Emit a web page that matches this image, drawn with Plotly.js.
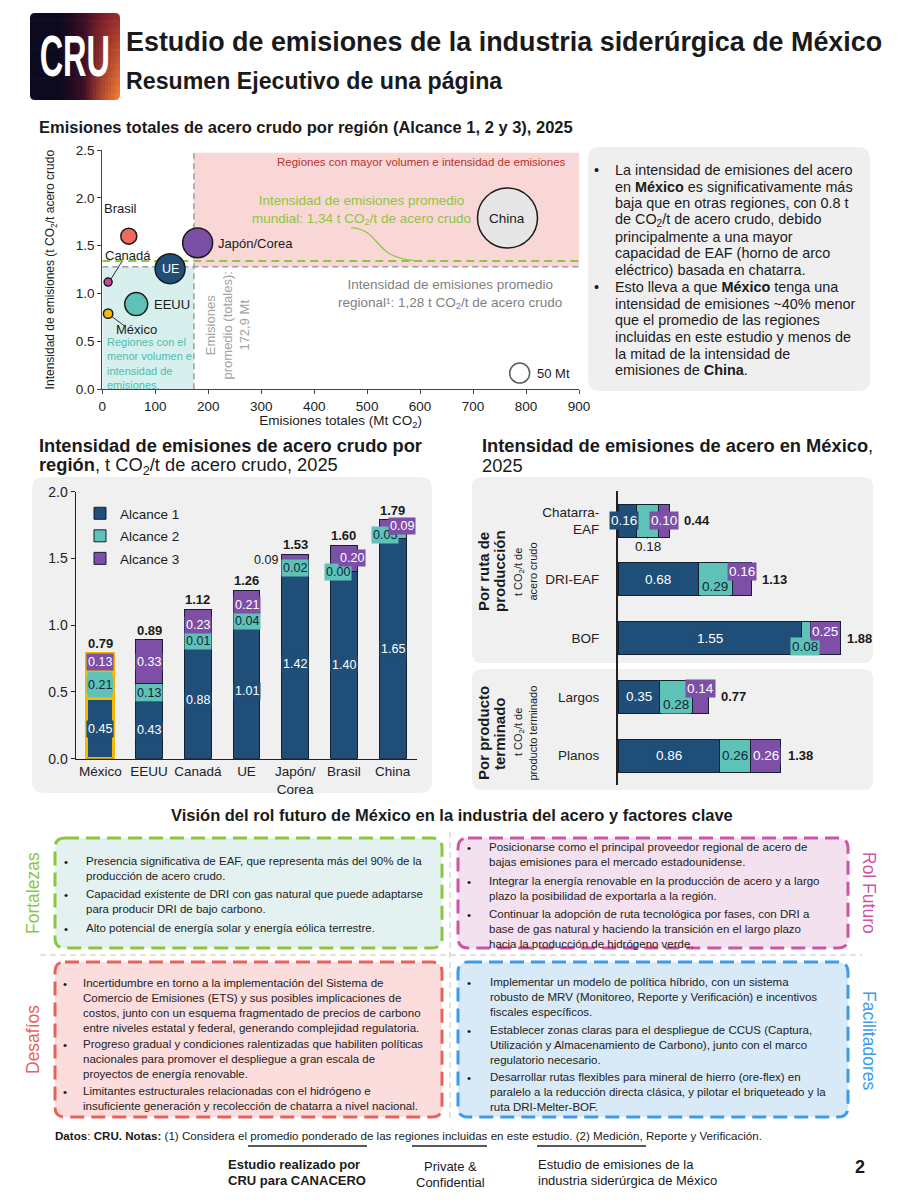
<!DOCTYPE html>
<html><head><meta charset="utf-8">
<script src="https://cdn.plot.ly/plotly-3.0.1.min.js"></script>
<style>html,body{margin:0;padding:0;background:#fff}#chart{width:900px;height:1200px}</style>
</head><body><div id="chart"></div>
<script>
// ================= DATA =================
// Gráfico de burbujas: emisiones totales vs intensidad (Alcance 1, 2 y 3), 2025
const regionesBurbuja = ['México', 'Canadá', 'Brasil', 'EEUU', 'UE', 'Japón/Corea', 'China'];
const emisionesTotalesMt = [11, 11, 50, 64, 128, 180, 765];
const intensidadTotal = [0.79, 1.12, 1.60, 0.89, 1.26, 1.53, 1.79];
const tamanoBurbujaMt = [11, 8, 32, 66, 112, 112, 450];
const coloresBurbuja = ['#f5b90f', '#c9449e', '#ef6a5b', '#5ec2b7', '#1f4e79', '#7b4fa6', '#e6e6e6'];
const escalaBurbujaMt = 50;
const promedioMundial = 1.34;
const promedioRegional = 1.28;
const emisionesPromedioMt = 172.9;

// Intensidad por región (barras apiladas)
const regiones = ['México', 'EEUU', 'Canadá', 'UE', 'Japón/Corea', 'Brasil', 'China'];
const regionesEtiquetas = ['México', 'EEUU', 'Canadá', 'UE', 'Japón/<br>Corea', 'Brasil', 'China'];
const alcance1 = [0.45, 0.43, 0.88, 1.01, 1.42, 1.40, 1.65];
const alcance2 = [0.21, 0.13, 0.01, 0.04, 0.02, 0.00, 0.05];
const alcance3 = [0.13, 0.33, 0.23, 0.21, 0.09, 0.20, 0.09];
const totalesRegion = [0.79, 0.89, 1.12, 1.26, 1.53, 1.60, 1.79];

// Intensidad en México (barras horizontales)
const rutas = ['Chatarra-EAF', 'DRI-EAF', 'BOF', 'Largos', 'Planos'];
const rutasEtiquetas = ['Chatarra-<br>EAF', 'DRI-EAF', 'BOF', 'Largos', 'Planos'];
const mxAlcance1 = [0.16, 0.68, 1.55, 0.35, 0.86];
const mxAlcance2 = [0.18, 0.29, 0.08, 0.28, 0.26];
const mxAlcance3 = [0.10, 0.16, 0.25, 0.14, 0.26];
const mxTotales = [0.44, 1.13, 1.88, 0.77, 1.38];

const nombresAlcance = ['Alcance 1', 'Alcance 2', 'Alcance 3'];

// ================= STYLE =================
const W = 900, H = 1200;
const X = p => p / W, Y = p => 1 - p / H;
const FONT = '"Liberation Sans", Arial, Helvetica, sans-serif';
const INK = '#1a1a1a';
const COL = ['#1f4e79', '#5ec2b7', '#7d4fa6'];
const LBL = ['#ffffff', '#10263b', '#ffffff'];
const SREF = 0.25;
const ann = [];
const shapes = [];

function T(x, y, text, o) {
  o = o || {};
  const dataX = o.xref && o.xref !== 'paper';
  const dataY = o.yref && o.yref !== 'paper';
  const xa = o.xa || 'left';
  const a = {
    xref: o.xref || 'paper', yref: o.yref || 'paper',
    x: dataX ? x : X(x), y: dataY ? y : Y(y),
    text: text, showarrow: false,
    xanchor: xa, yanchor: o.ya || 'middle',
    align: o.align || (xa === 'center' ? 'center' : (xa === 'right' ? 'right' : 'left')),
    textangle: o.angle || 0,
    borderpad: o.pad !== undefined ? o.pad : 0,
    font: {family: o.family || FONT, size: o.size || 12, color: o.color || INK}
  };
  if (o.bg) a.bgcolor = o.bg;
  if (o.dx) a.xshift = o.dx;
  if (o.dy) a.yshift = o.dy;
  if (o.arrow) Object.assign(a, o.arrow);
  ann.push(a);
}
function rrPath(x0, y0, x1, y1, r) {
  const a = X(x0), b = X(x1), c = Y(y0), d = Y(y1), rx = r / W, ry = r / H;
  return `M${a + rx},${c} L${b - rx},${c} Q${b},${c} ${b},${c - ry} L${b},${d + ry} Q${b},${d} ${b - rx},${d} ` +
         `L${a + rx},${d} Q${a},${d} ${a},${d + ry} L${a},${c - ry} Q${a},${c} ${a + rx},${c} Z`;
}
function rbox(x0, y0, x1, y1, r, fill, line) {
  shapes.push({type: 'path', xref: 'paper', yref: 'paper', path: rrPath(x0, y0, x1, y1, r),
    fillcolor: fill, line: line || {width: 0}, layer: 'below'});
}
function pline(x0, y0, x1, y1, line) {
  shapes.push({type: 'line', xref: 'paper', yref: 'paper', x0: X(x0), y0: Y(y0), x1: X(x1), y1: Y(y1), line: line, layer: 'below'});
}

// ================= LOGO =================
function lerp(c1, c2, t) { return c1.map((v, k) => Math.round(v + (c2[k] - v) * t)); }
function logoColor(u, v) {
  const dark = [12, 10, 30], red = [122, 20, 42], org = [238, 122, 52];
  let t = Math.min(1, Math.max(0, (u - 0.25) / 0.75));
  let c = lerp(dark, red, t * t * (3 - 2 * t));
  let o = Math.max(0, (u - 0.6) / 0.4) * (0.2 + 0.8 * v);
  c = lerp(c, org, Math.min(1, o * 1.1));
  return `rgb(${c.join(',')})`;
}
(function () {
  const x0 = 30, x1 = 120, y0 = 13, y1 = 100, nc = 30, nr = 12;
  const w = (x1 - x0) / nc, h = (y1 - y0) / nr;
  for (let i = 0; i < nc; i++) for (let j = 0; j < nr; j++) {
    shapes.push({type: 'rect', xref: 'paper', yref: 'paper', layer: 'below',
      x0: X(x0 + i * w), x1: X(Math.min(x1, x0 + (i + 1) * w + 0.6)),
      y0: Y(y0 + j * h), y1: Y(Math.min(y1, y0 + (j + 1) * h + 0.6)),
      fillcolor: logoColor((i + 0.5) / nc, (j + 0.5) / nr), line: {width: 0}});
  }
  const r = 5;
  [[x0, y0, 1, 1], [x1, y0, -1, 1], [x0, y1, 1, -1], [x1, y1, -1, -1]].forEach(([cx, cy, sx, sy]) => {
    const p = (a, b) => `${X(a)},${Y(b)}`;
    shapes.push({type: 'path', xref: 'paper', yref: 'paper', layer: 'below', fillcolor: '#ffffff', line: {width: 0},
      path: `M${p(cx, cy)} L${p(cx + sx * r, cy)} Q${p(cx, cy)} ${p(cx, cy + sy * r)} Z`});
  });
})();
T(75, 56, '<b>CRU</b>', {xa: 'center', size: 58, color: '#ffffff'});
T(125, 42, '<b>Estudio de emisiones de la industria siderúrgica de México</b>', {size: 26.9});
T(125, 81, '<b>Resumen Ejecutivo de una página</b>', {size: 23.2});

// ================= SECTION 1: BUBBLES =================
T(38, 127, '<b>Emisiones totales de acero crudo por región (Alcance 1, 2 y 3), 2025</b>', {size: 16.5});

shapes.push({type: 'rect', xref: 'x', yref: 'y', x0: emisionesPromedioMt, x1: 900, y0: promedioRegional, y1: 2.47,
  fillcolor: '#f9d7d7', line: {width: 0}, layer: 'below'});
shapes.push({type: 'rect', xref: 'x', yref: 'y', x0: 0, x1: emisionesPromedioMt, y0: 0, y1: promedioRegional,
  fillcolor: '#d7efed', line: {width: 0}, layer: 'below'});
shapes.push({type: 'line', xref: 'x', yref: 'y', x0: emisionesPromedioMt, x1: emisionesPromedioMt, y0: 0, y1: 2.5,
  line: {color: '#9c9c9c', width: 1.5, dash: '6px,4px'}, layer: 'below'});
shapes.push({type: 'line', xref: 'x', yref: 'y', x0: 0, x1: 900, y0: promedioRegional, y1: promedioRegional,
  line: {color: '#9c9c9c', width: 1.5, dash: '6px,4px'}, layer: 'below'});
shapes.push({type: 'line', xref: 'x', yref: 'y', x0: 0, x1: 900, y0: promedioMundial, y1: promedioMundial,
  line: {color: '#8dc63f', width: 2, dash: '8px,5px'}, layer: 'below'});
shapes.push({type: 'path', xref: 'x', yref: 'y', path: 'M470,1.69 C528,1.665 508,1.38 590,1.345',
  line: {color: '#8dc63f', width: 1.3}, layer: 'below'});
shapes.push({type: 'line', xref: 'x', yref: 'y', x0: 37, y0: 1.335, x1: 15, y1: 1.14, line: {color: '#333', width: 1}, layer: 'below'});
shapes.push({type: 'line', xref: 'x', yref: 'y', x0: 17, y0: 0.765, x1: 41, y1: 0.665, line: {color: '#333', width: 1}, layer: 'below'});

const dx = {xref: 'x', yref: 'y'};
T(877, 2.37, 'Regiones con mayor volumen e intensidad de emisiones', Object.assign({xa: 'right', size: 11.5, color: '#b8322f'}, dx));
T(490, 1.875, 'Intensidad de emisiones promedio<br>mundial: 1,34 t CO<sub>2</sub>/t de acero crudo', Object.assign({xa: 'center', size: 13.5, color: '#8dc63f'}, dx));
T(656, 0.995, 'Intensidad de emisiones promedio<br>regional¹: 1,28 t CO<sub>2</sub>/t de acero crudo', Object.assign({xa: 'center', size: 13.5, color: '#7f7f7f'}, dx));
T(237, 0.665, 'Emisiones<br>promedio (totales):<br>172,9 Mt', Object.assign({xa: 'center', size: 13, color: '#a3a3a3', angle: -90}, dx));
T(7, 0.265, 'Regiones con el<br>menor volumen e<br>intensidad de<br>emisiones.', Object.assign({size: 11, color: '#4fbdb1'}, dx));
T(35, 1.89, 'Brasil', Object.assign({xa: 'center', size: 13}, dx));
T(48, 1.40, 'Canadá', Object.assign({xa: 'center', size: 13}, dx));
T(64, 0.62, 'México', Object.assign({xa: 'center', size: 13}, dx));
T(95, 0.89, 'EEUU', Object.assign({size: 13}, dx));
T(216, 1.525, 'Japón/Corea', Object.assign({size: 13}, dx));
T(128, 1.255, 'UE', Object.assign({xa: 'center', size: 12.5, color: '#ffffff'}, dx));
T(765, 1.785, 'China', Object.assign({xa: 'center', size: 13.5}, dx));
T(818, 0.17, '50 Mt', Object.assign({size: 13}, dx));

// Right text box
rbox(588, 147, 870, 391, 12, '#efefef');
const textoDerecho = [
  'La intensidad de emisiones del acero',
  'en <b>México</b> es significativamente más',
  'baja que en otras regiones, con 0.8 t',
  'de CO<sub>2</sub>/t de acero crudo, debido',
  'principalmente a una mayor',
  'capacidad de EAF (horno de arco',
  'eléctrico) basada en chatarra.',
  'Esto lleva a que <b>México</b> tenga una',
  'intensidad de emisiones ~40% menor',
  'que el promedio de las regiones',
  'incluidas en este estudio y menos de',
  'la mitad de la intensidad de',
  'emisiones de <b>China</b>.'
];
textoDerecho.forEach((l, i) => T(614, 170 + i * 16.7, l, {size: 14.4}));
T(593, 170, '•', {size: 14.4});
T(593, 170 + 7 * 16.7, '•', {size: 14.4});

// ================= SECTION 2: STACKED BARS =================
rbox(32, 477, 432, 793, 12, '#f0f0f0');
T(38, 446, '<b>Intensidad de emisiones de acero crudo por</b>', {size: 18.3});
T(38, 466, '<b>región</b>, t CO<sub>2</sub>/t de acero crudo, 2025', {size: 18.3});

const vOff = {'2-4': {dx: -29, plain: true}, '1-5': {dx: -6}, '2-5': {dx: 8}, '1-6': {dx: -8}, '2-6': {dx: 9}};
const alc = [alcance1, alcance2, alcance3];
regiones.forEach((r, i) => {
  let base = 0;
  alc.forEach((vals, k) => {
    const v = vals[i], c = base + v / 2; base += v;
    const o = vOff[k + '-' + i] || {};
    T(r, c, v.toFixed(2), {xref: 'x2', yref: 'y2', xa: 'center', size: 12.5,
      color: o.plain ? INK : LBL[k], bg: o.plain ? undefined : COL[k], pad: 1, dx: o.dx, dy: o.dy});
  });
  T(r, totalesRegion[i], '<b>' + totalesRegion[i].toFixed(2) + '</b>', {xref: 'x2', yref: 'y2', xa: 'center', ya: 'bottom', size: 13, dy: 1});
});

// ================= SECTION 3: MÉXICO HORIZONTAL BARS =================
rbox(472, 477, 873, 663, 10, '#f0f0f0');
rbox(472, 669, 873, 790, 10, '#f0f0f0');
T(481, 446, '<b>Intensidad de emisiones de acero en México</b>,', {size: 18.3});
T(481, 466, '2025', {size: 18.3});
T(483, 571, '<b>Por ruta de</b>', {xa: 'center', angle: -90, size: 15});
T(499, 571, '<b>producción</b>', {xa: 'center', angle: -90, size: 15});
T(519, 572, 't CO<sub>2</sub>/t de', {xa: 'center', angle: -90, size: 11});
T(532.5, 572, 'acero crudo', {xa: 'center', angle: -90, size: 11});
T(483, 733, '<b>Por producto</b>', {xa: 'center', angle: -90, size: 15});
T(499, 733, '<b>terminado</b>', {xa: 'center', angle: -90, size: 15});
T(519, 732, 't CO<sub>2</sub>/t de', {xa: 'center', angle: -90, size: 11});
T(532.5, 733, 'producto terminado', {xa: 'center', angle: -90, size: 11});

const hOff = {'0-0': {dx: -3}, '1-0': {below: true}, '1-1': {dy: -7}, '2-1': {dy: 8}, '1-2': {dy: -8, dx: -1},
              '2-2': {dy: 7}, '1-3': {dy: -8}, '2-3': {dy: 8}};
const totalShift = [13, 10, 6, 11, 6];
const mx = [mxAlcance1, mxAlcance2, mxAlcance3];
rutas.forEach((r, i) => {
  let base = 0;
  mx.forEach((vals, k) => {
    const v = vals[i], c = base + v / 2; base += v;
    const o = hOff[k + '-' + i] || {};
    if (o.below) {
      T(c, r, v.toFixed(2), {xref: 'x3', yref: 'y3', xa: 'center', size: 13.5, color: INK,
        arrow: {showarrow: true, arrowhead: 0, arrowwidth: 1, arrowcolor: '#333', ax: 0, ay: 26, standoff: 16, yanchor: 'middle'}});
    } else {
      T(c, r, v.toFixed(2), {xref: 'x3', yref: 'y3', xa: 'center', size: 13.5, color: LBL[k], bg: COL[k], pad: 1, dx: o.dx, dy: o.dy});
    }
  });
  T(mxTotales[i], r, '<b>' + mxTotales[i].toFixed(2) + '</b>', {xref: 'x3', yref: 'y3', size: 13, dx: totalShift[i]});
});

// ================= SECTION 4: BOXES =================
T(452, 815, '<b>Visión del rol futuro de México en la industria del acero y factores clave</b>', {xa: 'center', size: 16.5});
pline(450, 832, 450, 1122, {color: '#d9d9d9', width: 1.5, dash: '6px,4px'});
pline(40, 955, 862, 955, {color: '#d9d9d9', width: 1.5, dash: '6px,4px'});
const dash = '14px,7px';
rbox(55, 838, 442, 948, 10, '#e3f2f1', {color: '#8cc63f', width: 3, dash: dash});
rbox(458, 838, 848, 948, 10, '#f4e1ef', {color: '#cc55a8', width: 3, dash: dash});
rbox(55, 962, 442, 1117, 10, '#fbdddd', {color: '#e8625c', width: 3, dash: dash});
rbox(458, 962, 848, 1117, 10, '#d8eaf8', {color: '#3d9be9', width: 3, dash: dash});
T(33, 893, 'Fortalezas', {xa: 'center', angle: -90, size: 17.5, color: '#8cc63f'});
T(33, 1040, 'Desafíos', {xa: 'center', angle: -90, size: 17.5, color: '#e8625c'});
T(869, 893, 'Rol Futuro', {xa: 'center', angle: 90, size: 17.5, color: '#cc55a8'});
T(869, 1040, 'Facilitadores', {xa: 'center', angle: 90, size: 17.5, color: '#3d9be9'});

function bullets(xb, xt, list) {
  list.forEach(([c, text]) => {
    T(xb, c, '•', {size: 11.5});
    T(xt, c - 0.65 * 11.5 - 0.5, text, {size: 11.5, ya: 'top', color: '#222'});
  });
}
bullets(63, 85, [
  [862, 'Presencia significativa de EAF, que representa más del 90% de la<br>producción de acero crudo.'],
  [895, 'Capacidad existente de DRI con gas natural que puede adaptarse<br>para producir DRI de bajo carbono.'],
  [929, 'Alto potencial de energía solar y energía eólica terrestre.']
]);
bullets(466, 488, [
  [848, 'Posicionarse como el principal proveedor regional de acero de<br>bajas emisiones para el mercado estadounidense.'],
  [882, 'Integrar la energía renovable en la producción de acero y a largo<br>plazo la posibilidad de exportarla a la región.'],
  [915, 'Continuar la adopción de ruta tecnológica por fases, con DRI a<br>base de gas natural y haciendo la transición en el largo plazo<br>hacia la producción de hidrógeno verde.']
]);
bullets(62, 82, [
  [984, 'Incertidumbre en torno a la implementación del Sistema de<br>Comercio de Emisiones (ETS) y sus posibles implicaciones de<br>costos, junto con un esquema fragmentado de precios de carbono<br>entre niveles estatal y federal, generando complejidad regulatoria.'],
  [1045, 'Progreso gradual y condiciones ralentizadas que habiliten políticas<br>nacionales para promover el despliegue a gran escala de<br>proyectos de energía renovable.'],
  [1092, 'Limitantes estructurales relacionadas con el hidrógeno e<br>insuficiente generación y recolección de chatarra a nivel nacional.']
]);
bullets(466, 489, [
  [983, 'Implementar un modelo de política híbrido, con un sistema<br>robusto de MRV (Monitoreo, Reporte y Verificación) e incentivos<br>fiscales específicos.'],
  [1031, 'Establecer zonas claras para el despliegue de CCUS (Captura,<br>Utilización y Almacenamiento de Carbono), junto con el marco<br>regulatorio necesario.'],
  [1078, 'Desarrollar rutas flexibles para mineral de hierro (ore-flex) en<br>paralelo a la reducción directa clásica, y pilotar el briqueteado y la<br>ruta DRI-Melter-BOF.']
]);

// ================= FOOTER =================
T(54, 1135, '<b>Datos</b>: <b>CRU. Notas:</b> (1) Considera el promedio ponderado de las regiones incluidas en este estudio. (2) Medición, Reporte y Verificación.', {size: 11.6});
pline(248, 1146, 367, 1146, {color: '#222', width: 1.5});
pline(412, 1146, 487, 1146, {color: '#222', width: 1.5});
pline(537, 1146, 646, 1146, {color: '#222', width: 1.5});
T(227, 1164, '<b>Estudio realizado por</b>', {size: 13});
T(227, 1180, '<b>CRU para CANACERO</b>', {size: 13});
T(450, 1166, 'Private &', {xa: 'center', size: 13});
T(450, 1182, 'Confidential', {xa: 'center', size: 13});
T(537, 1164, 'Estudio de emisiones de la', {size: 13});
T(537, 1180, 'industria siderúrgica de México', {size: 13});
T(866, 1167, '<b>2</b>', {xa: 'right', size: 18});

// ================= TRACES =================
const data = [];
data.push({type: 'scatter', mode: 'markers', x: emisionesTotalesMt, y: intensidadTotal, text: regionesBurbuja,
  xaxis: 'x', yaxis: 'y', showlegend: false, hoverinfo: 'skip', cliponaxis: false,
  marker: {size: tamanoBurbujaMt, sizemode: 'area', sizeref: SREF, color: coloresBurbuja, opacity: 1,
           line: {color: '#1a1a1a', width: 1.5}}});
data.push({type: 'scatter', mode: 'markers', x: [788], y: [0.17], xaxis: 'x', yaxis: 'y', showlegend: false, hoverinfo: 'skip',
  marker: {size: [escalaBurbujaMt], sizemode: 'area', sizeref: SREF, color: '#ffffff', line: {color: '#1a1a1a', width: 1.5}}});

alc.forEach((vals, k) => data.push({type: 'bar', x: regiones, y: vals, xaxis: 'x2', yaxis: 'y2', name: nombresAlcance[k],
  legendgroup: 'g' + k, width: 0.55, hoverinfo: 'skip', textposition: 'none',
  marker: {color: COL[k], line: {color: '#15202e', width: 1}}}));
alc.forEach((vals, k) => data.push({type: 'bar', x: [regiones[0]], y: [vals[0]], xaxis: 'x4', yaxis: 'y4', showlegend: false,
  width: 0.55, hoverinfo: 'skip', marker: {color: 'rgba(0,0,0,0)', line: {color: '#f5b800', width: 3}}}));
mx.forEach((vals, k) => data.push({type: 'bar', orientation: 'h', x: vals, y: rutas, xaxis: 'x3', yaxis: 'y3', showlegend: false,
  width: 0.56, hoverinfo: 'skip', textposition: 'none', marker: {color: COL[k], line: {color: '#15202e', width: 1}}}));

const layout = {
  width: W, height: H, autosize: false, margin: {l: 0, r: 0, t: 0, b: 0},
  paper_bgcolor: '#ffffff', plot_bgcolor: 'rgba(0,0,0,0)', hovermode: false,
  font: {family: FONT, color: INK, size: 12},
  barmode: 'stack',
  showlegend: true,
  legend: {x: X(80), y: Y(498), xanchor: 'left', yanchor: 'top', bgcolor: 'rgba(0,0,0,0)', font: {size: 13.5},
           traceorder: 'grouped', tracegroupgap: 2},
  xaxis: {domain: [X(102.3), X(579)], range: [0, 900], dtick: 100, tick0: 0, showgrid: false, zeroline: false,
          showline: true, linecolor: '#444', ticks: 'outside', ticklen: 4, tickcolor: '#444',
          tickfont: {size: 13.5, color: '#222'}, anchor: 'y',
          title: {text: 'Emisiones totales (Mt CO<sub>2</sub>)', font: {size: 13.5}, standoff: 2}},
  yaxis: {domain: [Y(389.3), Y(150)], range: [0, 2.5], dtick: 0.5, tickformat: '.1f', showgrid: false, zeroline: false,
          showline: true, linecolor: '#444', ticks: 'outside', ticklen: 4, tickcolor: '#444',
          tickfont: {size: 13.5, color: '#222'}, anchor: 'x',
          title: {text: 'Intensidad de emisiones (t CO<sub>2</sub>/t acero crudo', font: {size: 12}, standoff: 18}},
  xaxis2: {domain: [X(76), X(417)], type: 'category', categoryorder: 'array', categoryarray: regiones,
           tickmode: 'array', tickvals: regiones, ticktext: regionesEtiquetas, range: [-0.5, 6.5],
           showline: true, linecolor: '#222', linewidth: 1.5, ticks: '', showgrid: false,
           tickfont: {size: 13.5, color: '#222'}, anchor: 'y2'},
  yaxis2: {domain: [Y(758.7), Y(491.7)], range: [0, 2], dtick: 0.5, tickformat: '.1f', showgrid: false, zeroline: false,
           showline: true, linecolor: '#222', linewidth: 1.5, ticks: 'outside', ticklen: 4, tickcolor: '#222',
           tickfont: {size: 14, color: '#222'}, anchor: 'x2'},
  xaxis4: {domain: [X(76), X(417)], type: 'category', categoryorder: 'array', categoryarray: regiones,
           range: [-0.5, 6.5], visible: false, anchor: 'y4'},
  yaxis4: {domain: [Y(758.7), Y(491.7)], range: [0, 2], visible: false, anchor: 'x4'},
  xaxis3: {domain: [X(618), X(866)], range: [0, 2.1], visible: false, anchor: 'y3'},
  yaxis3: {domain: [Y(785), Y(491.3)], type: 'category', categoryorder: 'array', categoryarray: rutas,
           tickmode: 'array', tickvals: rutas, ticktext: rutasEtiquetas, range: [4.5, -0.5],
           showline: true, linecolor: '#222', linewidth: 2, ticks: '', showgrid: false, ticklabelstandoff: 14,
           tickfont: {size: 13.5, color: '#222'}, anchor: 'x3'},
  shapes: shapes,
  annotations: ann
};

Plotly.newPlot('chart', data, layout, {staticPlot: true, displayModeBar: false}).then(function (gd) {
  // Condense the logo lettering (tall, narrow CRU wordmark)
  gd.querySelectorAll('text.annotation-text').forEach(function (el) {
    if (el.textContent === 'CRU') {
      const b = el.getBBox();
      const cx = b.x + b.width / 2;
      el.setAttribute('transform', 'translate(' + cx + ',0) scale(0.56,1) translate(' + (-cx) + ',0)');
    }
  });
});
</script>
</body></html>
